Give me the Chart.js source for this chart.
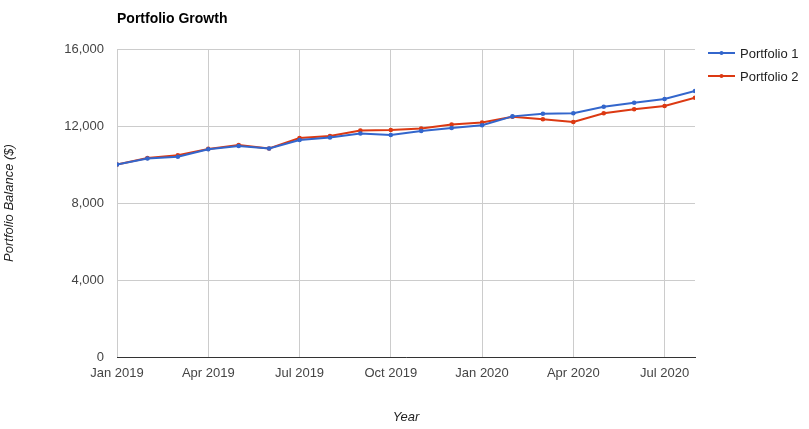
<!DOCTYPE html>
<html>
<head>
<meta charset="utf-8">
<script src="https://cdn.jsdelivr.net/npm/chart.js@4"></script>
<style>
html,body{margin:0;padding:0;background:#fff;}
#wrap{width:809px;height:429px;position:relative;}
</style>
</head>
<body>
<div id="wrap"><canvas id="c"></canvas></div>
<script>
const chartTitle = "Portfolio Growth";
const months = ["Jan 2019","Feb 2019","Mar 2019","Apr 2019","May 2019","Jun 2019","Jul 2019","Aug 2019","Sep 2019","Oct 2019","Nov 2019","Dec 2019","Jan 2020","Feb 2020","Mar 2020","Apr 2020","May 2020","Jun 2020","Jul 2020","Aug 2020"];
const portfolio1 = [10000,10310,10400,10790,10960,10830,11270,11400,11610,11530,11740,11900,12040,12500,12640,12660,13000,13210,13400,13820];
const portfolio2 = [10000,10340,10480,10810,11010,10830,11380,11480,11770,11790,11870,12080,12180,12480,12350,12210,12660,12870,13040,13470];
const xTickIdx = [0,3,6,9,12,15,18];
const yTicks = [0,4000,8000,12000,16000];
const seriesNames = ["Portfolio 1","Portfolio 2"];
const seriesColors = ["#3366cc","#dc3912"];

const FONT = "'Liberation Sans', Arial, sans-serif";
Chart.defaults.font.family = FONT;
Chart.defaults.font.size = 13;

const series = [portfolio1, portfolio2];
const datasets = series.map((s, i) => ({
  label: seriesNames[i],
  data: s.map((v, j) => ({x: j, y: v})),
  borderColor: seriesColors[i],
  backgroundColor: seriesColors[i],
  borderWidth: 2,
  pointRadius: 2.3,
  pointBorderWidth: 0,
  pointHoverRadius: 3,
  tension: 0
}));

const extras = {
  id: 'extras',
  afterDraw(chart) {
    const ctx = chart.ctx;
    ctx.save();
    ctx.fillStyle = '#000';
    ctx.font = "bold 14px " + FONT;
    ctx.textBaseline = 'middle';
    ctx.textAlign = 'left';
    ctx.fillText(chartTitle, 117, 19);
    ctx.font = "13px " + FONT;
    chart.data.datasets.forEach((d, i) => {
      const y = 53 + 23 * i;
      ctx.strokeStyle = d.borderColor;
      ctx.lineWidth = 2;
      ctx.beginPath(); ctx.moveTo(708, y); ctx.lineTo(735, y); ctx.stroke();
      ctx.fillStyle = d.borderColor;
      ctx.beginPath(); ctx.arc(721.5, y, 2, 0, Math.PI * 2); ctx.fill();
      ctx.fillStyle = '#222';
      ctx.fillText(d.label, 740, y + 1);
    });
    ctx.restore();
  }
};

new Chart(document.getElementById('c'), {
  type: 'line',
  data: { datasets },
  plugins: [extras],
  options: {
    responsive: true,
    maintainAspectRatio: false,
    animation: false,
    devicePixelRatio: 1,
    layout: { padding: { top: 49, right: 114, left: 0, bottom: 0 } },
    plugins: { legend: { display: false }, title: { display: false }, tooltip: { enabled: true } },
    scales: {
      x: {
        type: 'linear',
        min: 0,
        max: months.length - 1,
        afterFit(s) { s.height = 72; },
        afterBuildTicks(s) { s.ticks = xTickIdx.map(v => ({ value: v })); },
        ticks: {
          color: '#444',
          padding: 9,
          maxRotation: 0,
          autoSkip: false,
          callback: (v) => months[v] || ''
        },
        grid: { color: '#cccccc', drawTicks: false, lineWidth: 1 },
        border: { display: true, color: '#333333', width: 1 },
        title: { display: true, text: 'Year', color: '#222', font: { style: 'italic', size: 13 }, padding: { top: 0, bottom: 4 } }
      },
      y: {
        min: 0,
        max: 16000,
        afterFit(s) { s.width = 117; },
        afterBuildTicks(s) { s.ticks = yTicks.map(v => ({ value: v })); },
        ticks: {
          color: '#444',
          padding: 13,
          callback: (v) => v.toLocaleString('en-US')
        },
        grid: { color: '#cccccc', drawTicks: false, lineWidth: 1 },
        border: { display: false },
        title: { display: true, text: 'Portfolio Balance ($)', color: '#222', font: { style: 'italic', size: 13 }, padding: { top: 2, bottom: 0 } }
      }
    }
  }
});
</script>
</body>
</html>
